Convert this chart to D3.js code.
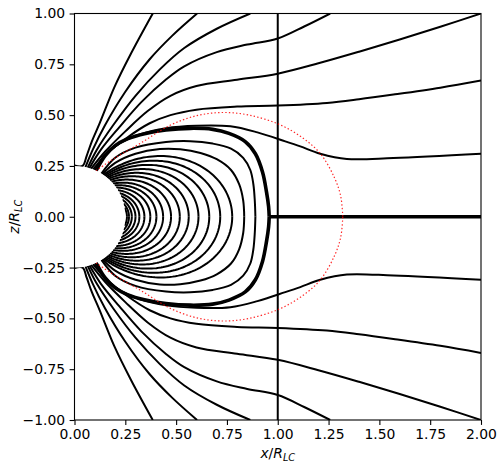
<!DOCTYPE html>
<html><head><meta charset="utf-8">
<script src="https://cdn.jsdelivr.net/npm/d3@7"></script>
<style>body{margin:0;background:#fff;} svg text{font-family:"DejaVu Sans",sans-serif;}</style>
</head><body><svg id="c" width="503" height="469"></svg>
<script>
// ---- data (upper half; lower half is the mirror image) ----
const xTicks = [0, 0.25, 0.5, 0.75, 1.0, 1.25, 1.5, 1.75, 2.0];
const zTicks = [-1.0, -0.75, -0.5, -0.25, 0.0, 0.25, 0.5, 0.75, 1.0];
const starRadius = 0.25;
const lightCylinder = 1.0;
const sheetStart = 0.958;
// open field lines [x, z]
const openT1 = [[0.0,0.252],[0.04,0.250],[0.06,0.30],[0.085,0.37],[0.123,0.458],[0.197,0.639],[0.278,0.803],[0.385,1.0]];
const openT2 = [[0.054,0.244],[0.09,0.33],[0.15,0.45],[0.25,0.615],[0.37,0.775],[0.48,0.89],[0.603,1.0]];
const openT3 = [[0.065,0.2415],[0.11,0.33],[0.19,0.45],[0.30,0.595],[0.42,0.725],[0.54,0.83],[0.70,0.925],[0.865,1.0]];
const openA  = [[0.073,0.239],[0.13,0.33],[0.22,0.44],[0.33,0.565],[0.45,0.675],[0.54,0.74],[0.70,0.81],[0.85,0.847],[1.0,0.877],[1.13,0.936],[1.258,1.0]];
const openB  = [[0.081,0.236],[0.15,0.32],[0.25,0.42],[0.36,0.52],[0.472,0.595],[0.6,0.643],[0.8,0.674],[1.0,0.704],[1.2,0.755],[1.4,0.812],[1.6,0.872],[1.8,0.935],[2.0,1.0]];
const openC  = [[0.0916,0.2326],[0.16,0.31],[0.26,0.39],[0.37,0.46],[0.472,0.50],[0.6,0.527],[0.8,0.542],[1.0,0.547],[1.242,0.56],[1.4,0.578],[1.569,0.601],[1.8,0.635],[2.0,0.67]];
const openD  = [[0.0997,0.2293],[0.15,0.305],[0.22,0.36],[0.32,0.405],[0.45,0.436],[0.6,0.448],[0.767,0.445],[0.9,0.415],[1.037,0.371],[1.111,0.346],[1.209,0.31],[1.34,0.284],[1.569,0.289],[2.0,0.31]];
// last closed line (separatrix) and the boxy closed lines next to it
const separatrix = [[0.106,0.227],[0.15,0.30],[0.20,0.35],[0.26,0.383],[0.35,0.41],[0.45,0.427],[0.57,0.435],[0.68,0.43],[0.76,0.41],[0.84,0.37],[0.89,0.31],[0.925,0.22],[0.945,0.12],[0.955,0.05],[0.958,0.0]];
const closedOuter1 = [[0.1325,0.212],[0.2,0.29],[0.3,0.34],[0.45,0.368],[0.57,0.372],[0.68,0.36],[0.77,0.335],[0.83,0.29],[0.865,0.23],[0.88,0.16],[0.887,0.08],[0.89,0.0]];
const closedOuter2 = [[0.137,0.209],[0.2,0.265],[0.3,0.31],[0.42,0.333],[0.52,0.332],[0.62,0.314],[0.7,0.283],[0.77,0.23],[0.81,0.16],[0.83,0.08],[0.835,0.0]];
// equatorial crossings of the inner closed (dipole-like) lines
const closedEquator = [0.776, 0.717, 0.663, 0.61, 0.562, 0.518, 0.475, 0.436, 0.403, 0.373, 0.344, 0.319, 0.300, 0.282, 0.268, 0.258];
// red dotted curve
const dottedCurve = [[0.106,0.227],[0.2,0.29],[0.33,0.365],[0.47,0.45],[0.6,0.497],[0.73,0.513],[0.86,0.50],[1.01,0.453],[1.12,0.39],[1.21,0.31],[1.28,0.19],[1.31,0.1],[1.32,0.0]];

// ---- drawing ----
const svg = d3.select("#c");
const L = 74.5, R = 481, T = 13.5, B = 420;
const x = d3.scaleLinear().domain([0, 2]).range([L, R]);
const z = d3.scaleLinear().domain([-1, 1]).range([B, T]);

svg.append("defs").append("clipPath").attr("id","clip")
  .append("rect").attr("x",L).attr("y",T).attr("width",R-L).attr("height",B-T);
const g = svg.append("g").attr("clip-path","url(#clip)");

const smooth = d3.line().x(d=>x(d[0])).y(d=>z(d[1])).curve(d3.curveCatmullRom.alpha(0.5));
const straight = d3.line().x(d=>x(d[0])).y(d=>z(d[1]));
const mirror = pts => pts.map(p=>[p[0], -p[1]]);

function dipole(Leq){
  const t0 = Math.asin(Math.sqrt(starRadius/Leq));
  const pts = [];
  const n = 60;
  for(let i=0;i<=n;i++){
    const t = t0 + (Math.PI/2 - t0)*i/n;
    const r = Leq*Math.sin(t)*Math.sin(t);
    pts.push([r*Math.sin(t), r*Math.cos(t)]);
  }
  return pts;
}

const normalW = 2.0, thickW = 3.6;
function drawLine(pts, w, gen){
  [pts, mirror(pts)].forEach(p=>{
    g.append("path").attr("d",(gen||smooth)(p)).attr("fill","none")
      .attr("stroke","#000").attr("stroke-width",w).attr("stroke-linejoin","round");
  });
}

closedEquator.forEach(Le=>drawLine(dipole(Le), normalW, straight));
[closedOuter2, closedOuter1].forEach(p=>drawLine(p, normalW));
drawLine(separatrix, thickW);
[openT1, openT2, openT3, openA, openB, openC, openD].forEach(p=>drawLine(p, normalW));

// current sheet
g.append("path").attr("d", straight([[sheetStart,0],[2,0]]))
  .attr("stroke","#000").attr("stroke-width",thickW).attr("fill","none");
// light cylinder
g.append("path").attr("d", straight([[lightCylinder,-1],[lightCylinder,1]]))
  .attr("stroke","#000").attr("stroke-width",normalW).attr("fill","none");

// star
g.append("circle").attr("cx",x(0)).attr("cy",z(0))
  .attr("r", x(starRadius)-x(0)).attr("fill","#fff");

// red dotted
[dottedCurve, mirror(dottedCurve)].forEach(p=>{
  g.append("path").attr("d", smooth(p)).attr("fill","none")
    .attr("stroke","#ff0000").attr("stroke-opacity",0.85).attr("stroke-width",1.2)
    .attr("stroke-dasharray","1.4,2.2");
});

// axes
const fmt = d3.format(".2f");
const ax = svg.append("g").attr("transform",`translate(0,${B})`)
  .call(d3.axisBottom(x).tickValues(xTicks).tickFormat(fmt).tickSize(4.9).tickPadding(4.5));
const ay = svg.append("g").attr("transform",`translate(${L},0)`)
  .call(d3.axisLeft(z).tickValues(zTicks).tickFormat(fmt).tickSize(4.9).tickPadding(4.5));
[ax, ay].forEach(a=>{
  a.select(".domain").remove();
  a.selectAll(".tick line").attr("stroke","#000").attr("stroke-width",1.1);
  a.selectAll(".tick text").attr("fill","#000").attr("font-size","13.9px")
    .attr("font-family","DejaVu Sans, sans-serif");
});
// frame
svg.append("rect").attr("x",L).attr("y",T).attr("width",R-L).attr("height",B-T)
  .attr("fill","none").attr("stroke","#000").attr("stroke-width",1.1);

// labels
const xl = svg.append("text").attr("x",(L+R)/2).attr("y",458).attr("text-anchor","middle")
  .attr("font-size","13.9px").attr("fill","#000");
xl.append("tspan").attr("font-style","italic").text("x");
xl.append("tspan").text("/");
xl.append("tspan").attr("font-style","italic").text("R");
xl.append("tspan").attr("font-style","italic").attr("font-size","9.7px").attr("dy",2.5).text("LC");

const yl = svg.append("text").attr("transform",`translate(19,${(T+B)/2}) rotate(-90)`)
  .attr("text-anchor","middle").attr("font-size","13.9px").attr("fill","#000");
yl.append("tspan").attr("font-style","italic").text("z");
yl.append("tspan").text("/");
yl.append("tspan").attr("font-style","italic").text("R");
yl.append("tspan").attr("font-style","italic").attr("font-size","9.7px").attr("dy",2.5).text("LC");
</script></body></html>
